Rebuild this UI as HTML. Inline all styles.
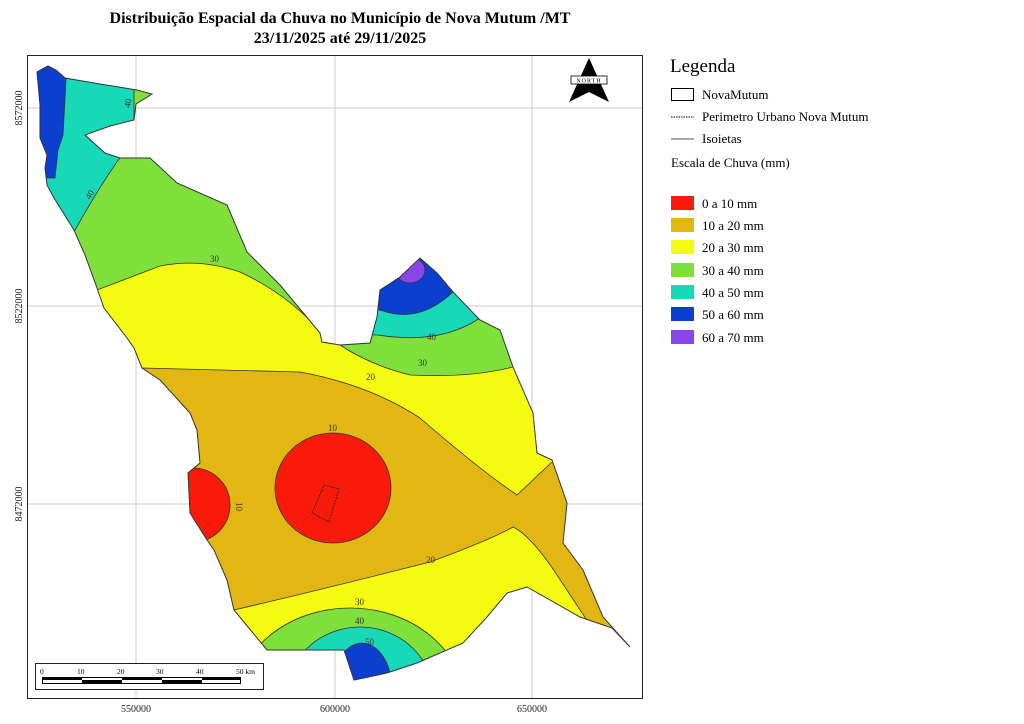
<!DOCTYPE html>
<html><head><meta charset="utf-8"><style>
html,body{margin:0;padding:0;background:#fff;width:1024px;height:724px;overflow:hidden;}
svg{display:block;}
svg text{font-family:"Liberation Serif",serif;}
</style></head><body>
<svg width="1024" height="724" viewBox="0 0 1024 724" xmlns="http://www.w3.org/2000/svg">
<rect width="1024" height="724" fill="#fff"/>
<text x="340" y="23" font-size="16" font-weight="bold" text-anchor="middle">Distribuição Espacial da Chuva no Município de Nova Mutum /MT</text>
<text x="340" y="43" font-size="16" font-weight="bold" text-anchor="middle">23/11/2025 até 29/11/2025</text>
<rect x="27.5" y="55.5" width="615" height="643" fill="none" stroke="#222" stroke-width="1"/>
<g stroke="#ccc" stroke-width="1">
<line x1="136" y1="56" x2="136" y2="698"/><line x1="335" y1="56" x2="335" y2="698"/><line x1="532" y1="56" x2="532" y2="698"/>
<line x1="28" y1="108" x2="642" y2="108"/><line x1="28" y1="306" x2="642" y2="306"/><line x1="28" y1="504" x2="642" y2="504"/>
</g>
<defs><clipPath id="c"><path id="o" d="M37,72 L48,66 L56,70 L65,78 L100,84 L137,90 L152,94 L136,104 L134,120 L110,126 L85,135 L105,153 L120,158 L150,158 L177,183 L227,205 L247,252 L280,285 L320,333 L322,342 L340,345 L370,343 L377,317 L380,290 L400,277 L420,258 L437,273 L453,292 L480,320 L500,330 L513,367 L533,413 L537,453 L552,460 L567,503 L563,543 L583,570 L603,617 L630,647 L612,628 L580,617 L527,587 L507,593 L487,617 L463,643 L417,663 L387,673 L354,680 L344,650 L300,650 L267,650 L234,610 L227,580 L214,550 L207,540 L190,513 L188,473 L200,463 L197,430 L190,413 L160,380 L142,368 L134,348 L127,338 L104,308 L97,288 L85,255 L74,230 L54,198 L47,185 L45,168 L47,155 L40,138 L40,105 Z"/></clipPath></defs>
<g clip-path="url(#c)" stroke="#333" stroke-width="0.8">
<rect x="0" y="0" width="700" height="724" fill="#e2b713" stroke="none"/>
<path d="M0,0 L700,0 L700,462 L552,462 L517,495 Q480,470 420,418 Q370,385 300,372 L142,368 L0,368 Z" fill="#f5fb10"/>
<path d="M0,724 L0,615 L234,610 Q320,590 430,562 Q490,540 513,527 Q530,535 555,572 L590,625 L700,724 Z" fill="#f5fb10"/>
<path d="M0,0 L700,0 L700,367 L513,367 Q470,378 410,375 Q370,365 340,345 L325,337 Q290,295 240,272 Q200,258 160,266 L97,290 L0,290 Z" fill="#7fe03c"/>
<path d="M0,0 L134,0 L134,130 L122,155 Q100,185 74,232 L0,232 Z" fill="#17d9b8"/>
<path d="M0,0 L66,0 L66,80 L63,135 L58,150 L55,178 L0,178 Z" fill="#0b3fcf"/>
<path d="M360,0 L700,0 L700,320 L480,318 Q440,345 378,335 L360,335 Z" fill="#17d9b8"/>
<path d="M360,0 L700,0 L700,290 L455,290 Q420,325 380,310 L360,310 Z" fill="#0b3fcf"/>
<ellipse cx="410" cy="270" rx="15" ry="13" fill="#8a45ea"/>
<ellipse cx="350" cy="705" rx="115" ry="97" fill="#7fe03c"/>
<ellipse cx="360" cy="700" rx="75" ry="73" fill="#17d9b8"/>
<ellipse cx="362" cy="690" rx="30" ry="47" fill="#0b3fcf"/>
<ellipse cx="333" cy="488" rx="58" ry="55" fill="#f91a0a"/>
<circle cx="193" cy="505" r="37" fill="#f91a0a"/>
</g>
<use href="#o" fill="none" stroke="#333" stroke-width="1"/>
<path d="M324,485 L339,489 L329,522 L312,513 Z" fill="none" stroke="#222" stroke-width="0.8" stroke-dasharray="2,1"/>
<g font-size="9" fill="#333">
<text x="210" y="262">30</text><text x="366" y="380">20</text><text x="328" y="431">10</text>
<text x="418" y="366">30</text><text x="427" y="340">40</text><text x="426" y="563">20</text>
<text x="355" y="605">30</text><text x="355" y="624">40</text><text x="365" y="645">50</text>
<text x="236" y="502" transform="rotate(90 236 502)">10</text>
<text x="90" y="200" transform="rotate(-60 90 200)">40</text>
<text x="130" y="108" transform="rotate(-80 130 108)">40</text>
</g>
<g font-size="10" fill="#222">
<text x="136" y="712" text-anchor="middle">550000</text><text x="335" y="712" text-anchor="middle">600000</text><text x="532" y="712" text-anchor="middle">650000</text>
<text transform="translate(22,108) rotate(-90)" text-anchor="middle">8572000</text>
<text transform="translate(22,306) rotate(-90)" text-anchor="middle">8522000</text>
<text transform="translate(22,504) rotate(-90)" text-anchor="middle">8472000</text>
</g>
<rect x="35.5" y="663.5" width="228" height="26" fill="#fff" stroke="#222"/>
<rect x="42.5" y="677.5" width="198" height="6" fill="#fff" stroke="#000"/>
<g fill="#000"><rect x="42" y="677" width="40" height="3"/><rect x="82" y="680" width="40" height="3"/><rect x="122" y="677" width="40" height="3"/><rect x="162" y="680" width="40" height="3"/><rect x="202" y="677" width="39" height="3"/></g>
<g font-size="7.5"><text x="40" y="674">0</text><text x="77" y="674">10</text><text x="117" y="674">20</text><text x="156" y="674">30</text><text x="196" y="674">40</text><text x="236" y="674">50 km</text></g>
<g transform="translate(589,80)">
<polygon points="0,-22 20,22 0,12 -20,22" fill="#000"/>
<rect x="-18" y="-4" width="36" height="8" fill="#fff" stroke="#000" stroke-width="0.8"/>
<text x="0" y="2.5" font-size="6" text-anchor="middle" letter-spacing="1">NORTH</text>
</g>
<text x="670" y="72" font-size="19">Legenda</text>
<rect x="671.5" y="88.5" width="22" height="12" fill="#fff" stroke="#000"/>
<text x="702" y="99" font-size="13">NovaMutum</text>
<line x1="671" y1="117" x2="694" y2="117" stroke="#000" stroke-dasharray="1.5,1"/>
<text x="702" y="121" font-size="13">Perimetro Urbano Nova Mutum</text>
<line x1="671" y1="139" x2="694" y2="139" stroke="#555"/>
<text x="702" y="143" font-size="13">Isoietas</text>
<text x="671" y="167" font-size="13">Escala de Chuva (mm)</text>
<g font-size="13">
<rect x="671" y="196" width="23" height="14" fill="#f91a0a"/><text x="702" y="208">0 a 10 mm</text>
<rect x="671" y="218" width="23" height="14" fill="#e2b713"/><text x="702" y="230">10 a 20 mm</text>
<rect x="671" y="240" width="23" height="14" fill="#f5fb10"/><text x="702" y="252">20 a 30 mm</text>
<rect x="671" y="263" width="23" height="14" fill="#7fe03c"/><text x="702" y="275">30 a 40 mm</text>
<rect x="671" y="285" width="23" height="14" fill="#17d9b8"/><text x="702" y="297">40 a 50 mm</text>
<rect x="671" y="307" width="23" height="14" fill="#0b3fcf"/><text x="702" y="319">50 a 60 mm</text>
<rect x="671" y="330" width="23" height="14" fill="#8a45ea"/><text x="702" y="342">60 a 70 mm</text>
</g>
</svg>
</body></html>
